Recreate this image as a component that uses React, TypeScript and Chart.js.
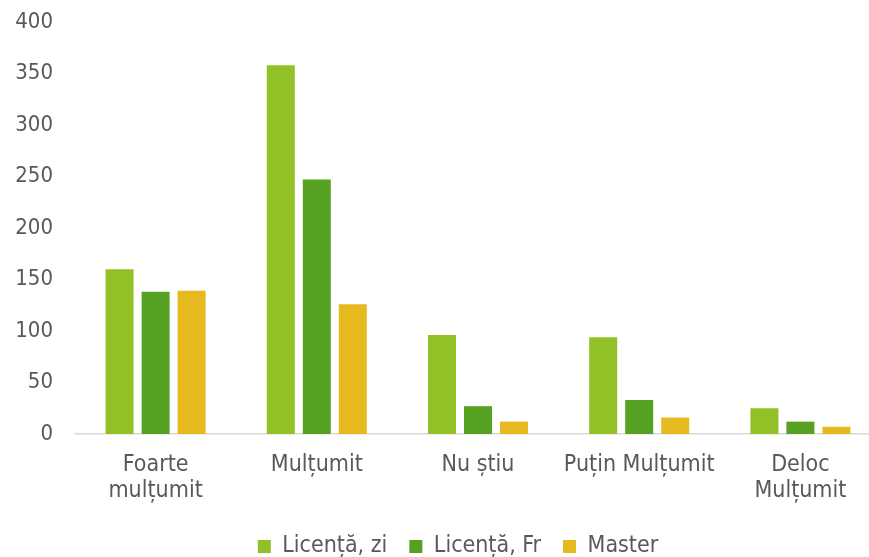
import React, { useEffect, useRef } from "react";
import { Chart, registerables } from "chart.js";

Chart.register(...registerables);

const categories: (string | string[])[] = [
  ["Foarte", "mulțumit"],
  "Mulțumit",
  "Nu știu",
  "Puțin Mulțumit",
  ["Deloc", "Mulțumit"],
];
const seriesNames = ["Licență, zi", "Licență, Fr", "Master"];
const licentaZi = [160, 358, 96, 94, 25];
const licentaFr = [138, 247, 27, 33, 12];
const master = [139, 126, 12, 16, 7];
const colors = ["#92C126", "#56A022", "#E6B91E"];
const yMax = 400;
const yStep = 50;

const FONT = "'DejaVu Sans Condensed', 'DejaVu Sans', sans-serif";
const TEXT = "#595959";
const FS = 23;

const shiftLegend = {
  id: "shiftLegend",
  afterLayout(chart: any) {
    const lg = chart.legend;
    if (lg) {
      lg.left += 12.5;
      lg.right += 12.5;
    }
  },
};

export default function App() {
  const ref = useRef<HTMLCanvasElement | null>(null);
  useEffect(() => {
    document.body.style.margin = "0";
    const canvas = ref.current;
    if (!canvas) return;
    const chart = new Chart(canvas, {
      type: "bar",
      data: {
        labels: categories,
        datasets: [licentaZi, licentaFr, master].map((d, i) => ({
          label: seriesNames[i],
          data: d,
          backgroundColor: colors[i],
          borderWidth: 0,
          categoryPercentage: 0.67,
          barPercentage: 0.778,
        })),
      },
      options: {
        animation: false,
        responsive: false,
        maintainAspectRatio: false,
        layout: { padding: { left: 10, right: 0, top: 22, bottom: 32 } },
        plugins: {
          tooltip: { enabled: false },
          legend: {
            position: "bottom",
            labels: {
              boxWidth: 13,
              boxHeight: 13,
              padding: 22,
              color: TEXT,
              font: { family: FONT, size: FS },
            },
          },
        },
        scales: {
          x: {
            grid: { display: false, drawTicks: false },
            border: { display: true, color: "#D9D9D9", width: 1.5 },
            ticks: {
              color: TEXT,
              padding: 18,
              maxRotation: 0,
              autoSkip: false,
              font: { family: FONT, size: FS, lineHeight: 26 / FS },
            },
            afterFit: (s: any) => {
              s.height = 79;
            },
          },
          y: {
            min: 0,
            max: yMax,
            grid: { display: false, drawTicks: false },
            border: { display: false },
            ticks: {
              stepSize: yStep,
              color: TEXT,
              padding: 22,
              font: { family: FONT, size: 22 },
            },
            afterFit: (s: any) => {
              s.width = 65;
              s.paddingTop = 0;
              s.paddingBottom = 0;
            },
          },
        },
      },
      plugins: [shiftLegend],
    });
    return () => chart.destroy();
  }, []);
  return (
    <div style={{ width: 869, height: 557, overflow: "hidden" }}>
      <canvas ref={ref} width={881} height={600} style={{ display: "block" }} />
    </div>
  );
}
